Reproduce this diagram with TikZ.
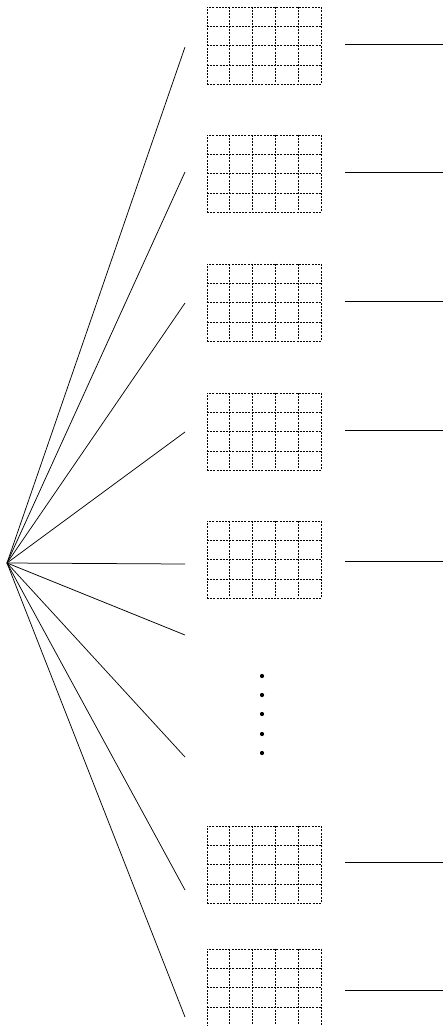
\documentclass[tikz,border=0pt]{standalone}
\usetikzlibrary{calc}
\begin{document}
\begin{tikzpicture}[x=1pt,y=-1pt,
  conn/.style={line width=0.75pt},
  gridline/.style={line width=0.6pt, dash pattern=on 2pt off 1.2pt},
  gridbox/.style={draw, gridline, minimum width=114pt, minimum height=77pt, inner sep=0pt},
  dotmark/.style={circle, fill, inner sep=0pt, minimum size=4.2pt}]
\useasboundingbox (0,0) rectangle (443,1026);
% apex and fan
\coordinate (a) at (7,563);
\foreach \i/\y in {1/47,2/172,3/303,4/432,5/564,6/635,7/757,8/890,9/1017}
  \coordinate (e\i) at (185,\y);
\foreach \i in {1,...,9}
  \draw[conn] (a) -- (e\i);
% grids
\foreach \i/\t in {1/7,2/135,3/264,4/393,5/521,6/826,7/949} {
  \node[gridbox] (g\i) at (264,\t+38.5) {};
  \foreach \k in {1,...,4}
    \draw[gridline] ($(g\i.north west)!\k/5!(g\i.north east)$) -- ($(g\i.south west)!\k/5!(g\i.south east)$);
  \foreach \k in {1,...,3}
    \draw[gridline] ($(g\i.north west)!\k/4!(g\i.south west)$) -- ($(g\i.north east)!\k/4!(g\i.south east)$);
}
% right lines
\foreach \i/\y in {1/44,2/172,3/301,4/430,5/561,6/862,7/990} {
  \coordinate (s\i) at (345,\y);
  \coordinate (r\i) at (443,\y);
  \draw[conn] (s\i) -- (r\i);
}
% vertical dots
\foreach \i/\y in {1/676,2/695,3/714,4/734,5/753}
  \node[dotmark] (d\i) at (262,\y) {};
\end{tikzpicture}
\end{document}
